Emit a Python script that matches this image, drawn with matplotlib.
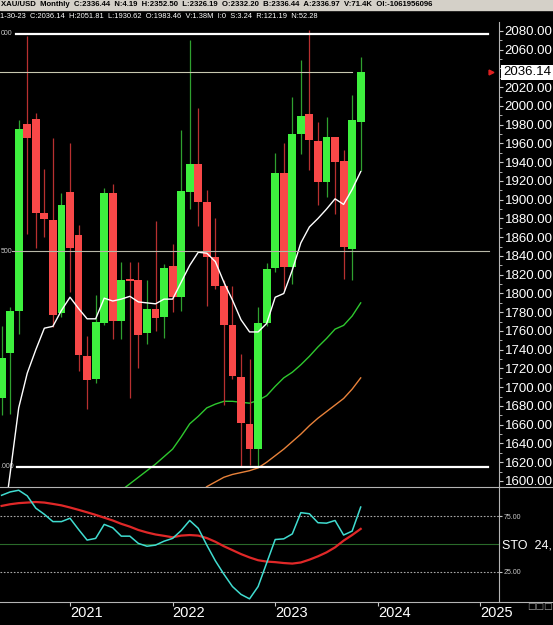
import matplotlib
matplotlib.use("Agg")
import matplotlib.pyplot as plt
import matplotlib.transforms as mtransforms
from matplotlib.lines import Line2D
from matplotlib.patches import Rectangle
import numpy as np

plt.rcParams['font.family'] = ['Liberation Sans', 'DejaVu Sans']

# --- monthly XAU/USD candles, May 2020 .. Nov 2023 (x = months from Jan 2021) ---
months = np.arange(-8, 35)
opens = [1688, 1737, 1781, 1981, 1986, 1886, 1878, 1779,
         1908, 1862, 1733, 1709, 1769, 1907, 1771, 1815, 1814, 1758, 1783, 1775,
         1829, 1796, 1908, 1938, 1898, 1839, 1808, 1766, 1711, 1661, 1634, 1768,
         1827, 1928, 1828, 1970, 1991, 1963, 1919, 1967, 1941, 1847, 1983.46]
highs = [1765, 1786, 1985, 2075, 1993, 1933, 1966, 1907,
         1960, 1873, 1755, 1798, 1913, 1917, 1834, 1834, 1834, 1814, 1877, 1831,
         1853, 1974, 2070, 1998, 1910, 1880, 1814, 1808, 1735, 1730, 1786, 1833,
         1950, 1960, 2010, 2049, 2081, 1983, 1988, 1967, 1953, 2012, 2051.81]
lows = [1670, 1671, 1757, 1863, 1849, 1860, 1764, 1775,
        1802, 1717, 1677, 1705, 1766, 1751, 1751, 1688, 1721, 1746, 1760, 1753,
        1780, 1781, 1890, 1872, 1787, 1805, 1681, 1709, 1615, 1617, 1616, 1765,
        1823, 1804, 1810, 1949, 1932, 1894, 1903, 1885, 1815, 1814, 1930.62]
closes = [1731, 1781, 1975, 1966, 1886, 1879, 1777, 1894,
          1848, 1734, 1708, 1770, 1907, 1771, 1814, 1813, 1756, 1783, 1774, 1827,
          1796, 1909, 1938, 1898, 1839, 1808, 1766, 1712, 1662, 1634, 1768, 1826,
          1929, 1828, 1970, 1989, 1964, 1919, 1967, 1940, 1850, 1985, 2036.14]

# moving averages (green starts Jul 2021, orange starts Apr 2022)
white_ma = [1540, 1608, 1678, 1715, 1740, 1763, 1765, 1782,
            1796, 1784, 1773, 1773, 1795, 1792, 1794, 1797, 1791, 1790, 1789, 1794,
            1794, 1812, 1830, 1844, 1843, 1834, 1812, 1793, 1772, 1759, 1759, 1768,
            1796, 1800, 1825, 1854, 1871, 1880, 1890, 1901, 1895, 1911, 1930]
green_ma = [1590, 1597, 1604, 1611, 1618, 1626,
            1634, 1647, 1661, 1669, 1678, 1682, 1685, 1685, 1684, 1683, 1686, 1691,
            1701, 1710, 1716, 1724, 1733, 1743, 1752, 1762, 1766, 1776, 1790]
orange_ma = [1585, 1594, 1599, 1604, 1607, 1609, 1611, 1614, 1620,
             1627, 1634, 1642, 1650, 1659, 1667, 1674, 1681, 1688, 1698, 1710]

# stochastic
sto_k = [93.5, 96.5, 98, 93, 82, 76.5, 70, 70,
         73, 63, 53.5, 55, 67.5, 64.5, 57, 57, 50.5, 48, 49, 52.5,
         55, 62, 71, 64, 49, 35, 23, 12, 5, 1, 12, 33,
         54, 54.6, 59, 78, 77, 69, 68.6, 71, 58, 61.5, 83]
sto_d = [84, 85.5, 86.5, 87, 87.5, 87, 85.8, 84.5,
         82.6, 80.5, 78.3, 76, 73.5, 71, 68, 65.5, 62.5, 60.3, 58.5, 57.3,
         56, 57.5, 58, 57.5, 55.3, 52, 48, 44.5, 41, 38, 35.5, 34.3,
         33.8, 33, 32.5, 33.5, 36, 39, 42.5, 47, 53, 58, 63.5]

years = ['2021', '2022', '2023', '2024', '2025']
year_pos = [0, 12, 24, 36, 48]

ath_level = 2076.8
mid_level = 1845.3
low_level = 1615.3
last_close = closes[-1]

# the level tags are cut by the window edge in the original, only their tails show
level_tags = [(ath_level, '000'), (mid_level, '500'), (low_level, '.000')]

header1 = ("XAU/USD  Monthly  C:2336.44  N:4.19  H:2352.50  L:2326.19  O:2332.20  "
           "B:2336.44  A:2336.97  V:71.4K  OI:-1061956096")
header2 = ("1-30-23  C:2036.14  H:2051.81  L:1930.62  O:1983.46  V:1.38M  I:0  "
           "S:3.24  R:121.19  N:52.28")

# --- layout in pixels ---
W, H = 553, 625
MONTH_PX = 8.55
JAN21_PX = 70
AXIS_PX = 499


def fx(px):
    return px / W


def fy(py):
    return 1 - py / H


fig = plt.figure(figsize=(W / 100, H / 100), dpi=100, facecolor='black')
ax = fig.add_axes([0, fy(487), fx(AXIS_PX), fy(22) - fy(487)], facecolor='black')
sto = fig.add_axes([0, fy(602), fx(AXIS_PX), fy(487) - fy(602)], facecolor='black', sharex=ax)

ax.set_xlim(-JAN21_PX / MONTH_PX, (AXIS_PX - JAN21_PX) / MONTH_PX)
ax.set_ylim(1593.6, 2089.6)

# --- candles ---
o = np.array(opens)
c = np.array(closes)
up = c >= o
body_col = np.where(up, '#3ef03e', '#f84848')
wick_col = np.where(up, '#2fa02f', '#b83030')
ax.vlines(months, lows, highs, colors=wick_col, lw=0.9, zorder=3)
ax.bar(months, np.abs(c - o), bottom=np.minimum(o, c), width=0.92,
       color=body_col, lw=0, zorder=4)

# --- averages ---
ax.plot(months[-len(green_ma):], green_ma, color='#2ec82e', lw=1.0, zorder=2)
ax.plot(months[-len(orange_ma):], orange_ma, color='#e8823a', lw=1.0, zorder=2)
ax.plot(months, white_ma, color='white', lw=1.0, zorder=5)

# --- level lines ---
ax.axhline(ath_level, xmin=16 / AXIS_PX, xmax=488 / AXIS_PX, color='white', lw=1.6, zorder=6)
ax.axhline(low_level, xmin=17 / AXIS_PX, xmax=488 / AXIS_PX, color='white', lw=1.6, zorder=6)
ax.axhline(mid_level, xmin=12 / AXIS_PX, xmax=489 / AXIS_PX, color='#b8b8a8', lw=0.8, zorder=6)
ax.axhline(last_close, xmin=0, xmax=352 / AXIS_PX, color='#c8c8b0', lw=0.8, zorder=6)

trans = mtransforms.blended_transform_factory(ax.transAxes, ax.transData)
for level, tag in level_tags:
    ax.text(0.5 / AXIS_PX, level, tag, transform=trans, ha='left', va='center',
            fontsize=5, color='#c8c8c8', clip_on=False)

# --- price axis ---
ticks = list(range(1600, 2081, 20))
ax.yaxis.tick_right()
ax.set_yticks(ticks)
ax.set_yticklabels(['' if abs(v - last_close) < 10 else f'{v:.2f}' for v in ticks])
ax.set_yticks(range(1600, 2081, 10), minor=True)
ax.tick_params(axis='y', which='major', colors='#c8c8c8', labelcolor='white',
               labelsize=9.5, length=3, pad=1)
ax.tick_params(axis='y', which='minor', colors='#c8c8c8', length=2)
ax.tick_params(axis='x', bottom=False, labelbottom=False)
for s in ax.spines.values():
    s.set_visible(False)

ax.text(1 + 4 / AXIS_PX, last_close, f'{last_close:.2f}', transform=trans, ha='left',
        va='center', fontsize=9.5, color='black', clip_on=False,
        bbox=dict(boxstyle='square,pad=0.12', fc='white', ec='none'))
ax.plot([491 / AXIS_PX], [last_close], marker='>', color='#e02020', ms=3.5,
        transform=trans, clip_on=False)

# --- stochastic panel ---
sto.set_ylim(-1.8, 100.9)
sto.axhline(75, color='#a8a8a8', lw=0.8, ls=(0, (1.5, 1.5)))
sto.axhline(25, color='#a8a8a8', lw=0.8, ls=(0, (1.5, 1.5)))
sto.axhline(50, color='#2a6a2a', lw=0.8)
sto.plot(months, sto_d, color='#e02828', lw=1.6, zorder=3)
sto.plot(months, sto_k, color='#40dcd0', lw=1.1, zorder=4)
sto.yaxis.tick_right()
sto.set_yticks([25, 75])
sto.set_yticklabels(['25.00', '75.00'])
sto.tick_params(axis='y', colors='#c8c8c8', labelsize=5, length=2, pad=1)
sto.set_xticks(year_pos)
sto.set_xticklabels(years)
for lab in sto.get_xticklabels():
    lab.set_ha('left')
sto.tick_params(axis='x', colors='#c8c8c8', labelcolor='white', labelsize=10.5, length=3, pad=0)
for s in sto.spines.values():
    s.set_visible(False)

fig.text(fx(502), fy(546), 'STO  24,', fontsize=9, color='white', va='center')
fig.text(fx(527), fy(607), '□□□', family='DejaVu Sans', fontsize=6.5, color='#a0a0a0', va='center')

# --- frame lines ---
for py in (487, 602):
    fig.add_artist(Line2D([0, 1], [fy(py)] * 2, color='#b4b4b4', lw=0.8))
fig.add_artist(Line2D([fx(AXIS_PX)] * 2, [fy(22), fy(602)], color='#b4b4b4', lw=0.8))

# --- header rows ---
fig.add_artist(Rectangle((0, fy(10)), 1, 10 / H, transform=fig.transFigure, color='#d4d0c8'))
t1 = fig.text(fx(1), fy(5), header1, fontsize=6, weight='bold', color='black', va='center')
t2 = fig.text(fx(0.5), fy(17), header2, fontsize=6, color='white', va='center')
r = fig.canvas.get_renderer()
for t, target in ((t1, 436), (t2, 317)):
    t.set_fontsize(t.get_fontsize() * target / t.get_window_extent(r).width)

fig.savefig('out.png', dpi=100, facecolor='black')
